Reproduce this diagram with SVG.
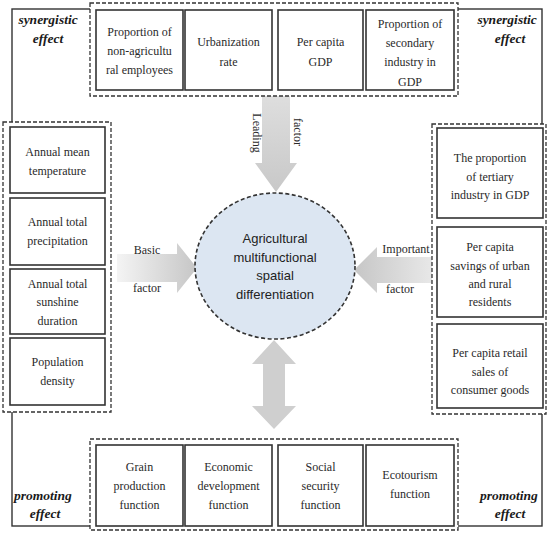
<svg xmlns="http://www.w3.org/2000/svg" width="550" height="536" viewBox="0 0 550 536">
<defs>
<style>
.frame{fill:none;stroke:#333;stroke-width:1.4}
.dash{fill:#fff;stroke:#333;stroke-width:1.3;stroke-dasharray:4 2}
.box{fill:#fff;stroke:#333;stroke-width:1.6}
.t{font-family:"Liberation Serif","Times New Roman",serif;font-size:12px;fill:#2a2a2a;text-anchor:middle}
.e{font-family:"Liberation Serif","Times New Roman",serif;font-size:13.5px;font-weight:bold;font-style:italic;fill:#1a1a1a;text-anchor:middle}
.c{font-family:"Liberation Sans",Arial,sans-serif;font-size:13px;fill:#222;text-anchor:middle}
</style>
<linearGradient id="gL" x1="0" y1="0" x2="1" y2="0">
<stop offset="0" stop-color="#f4f4f4"/><stop offset="1" stop-color="#c6c6c6"/>
</linearGradient>
<linearGradient id="gR" x1="1" y1="0" x2="0" y2="0">
<stop offset="0" stop-color="#e8e8e8"/><stop offset="1" stop-color="#c6c6c6"/>
</linearGradient>
<linearGradient id="gT" x1="0" y1="0" x2="0" y2="1">
<stop offset="0" stop-color="#dedede"/><stop offset="1" stop-color="#c8c8c8"/>
</linearGradient>
</defs>
<rect width="550" height="536" fill="#fff"/>
<rect class="frame" x="12" y="9" width="530" height="517"/>

<g id="effects">
<text class="e" x="48" y="24">synergistic</text>
<text class="e" x="48" y="43">effect</text>
<text class="e" x="507" y="24">synergistic</text>
<text class="e" x="510" y="43">effect</text>
<text class="e" x="43" y="500">promoting</text>
<text class="e" x="45" y="518">effect</text>
<text class="e" x="509" y="500">promoting</text>
<text class="e" x="510" y="518">effect</text>
</g>

<g id="connectors">
<polygon points="262,96 290,96 290,163 297,163 276,192 255,163 262,163" fill="url(#gT)"/>
<polygon points="117,254 177,254 177,243 197,268 177,293 177,282 117,282" fill="url(#gL)"/>
<polygon points="432,257 377,257 377,247 354,270 377,293 377,283 432,283" fill="url(#gR)"/>
<polygon points="274,340 296,364 285,364 285,406 296,406 274,429 252,406 263,406 263,364 252,364" fill="#cfcfcf"/>
<text class="t" transform="translate(253,133) rotate(90)">Leading</text>
<text class="t" transform="translate(294,132) rotate(90)">factor</text>
<text class="t" x="147" y="254">Basic</text>
<text class="t" x="147" y="292">factor</text>
<text class="t" x="406" y="253">Important</text>
<text class="t" x="400" y="293">factor</text>
</g>

<g id="top-group">
<rect class="dash" x="90" y="3" width="368" height="93"/>
<g id="n-nonagri"><rect class="box" x="96" y="10" width="87" height="80"/>
<text class="t" x="139.5" y="36">Proportion of</text><text class="t" x="139.5" y="55">non-agricultu</text><text class="t" x="139.5" y="74">ral employees</text></g>
<g id="n-urban"><rect class="box" x="185" y="10" width="87" height="80"/>
<text class="t" x="228.5" y="46">Urbanization</text><text class="t" x="228.5" y="66">rate</text></g>
<g id="n-gdp"><rect class="box" x="278" y="10" width="85" height="80"/>
<text class="t" x="320.5" y="46">Per capita</text><text class="t" x="320.5" y="66">GDP</text></g>
<g id="n-secondary"><rect class="box" x="366" y="10" width="88" height="80"/>
<text class="t" x="410" y="28">Proportion of</text><text class="t" x="410" y="47">secondary</text><text class="t" x="410" y="66">industry in</text><text class="t" x="410" y="86">GDP</text></g>
</g>

<g id="left-group">
<rect class="dash" x="3" y="122" width="108" height="290"/>
<g id="n-temp"><rect class="box" x="10" y="127" width="95" height="66"/>
<text class="t" x="57.5" y="156">Annual mean</text><text class="t" x="57.5" y="175">temperature</text></g>
<g id="n-precip"><rect class="box" x="10" y="198" width="95" height="67"/>
<text class="t" x="57.5" y="226">Annual total</text><text class="t" x="57.5" y="245">precipitation</text></g>
<g id="n-sun"><rect class="box" x="10" y="269" width="95" height="65"/>
<text class="t" x="57.5" y="288">Annual total</text><text class="t" x="57.5" y="306">sunshine</text><text class="t" x="57.5" y="325">duration</text></g>
<g id="n-pop"><rect class="box" x="10" y="338" width="95" height="67"/>
<text class="t" x="57.5" y="366">Population</text><text class="t" x="57.5" y="385">density</text></g>
</g>

<g id="right-group">
<rect class="dash" x="432" y="124" width="114" height="290"/>
<g id="n-tertiary"><rect class="box" x="437" y="128" width="106" height="90"/>
<text class="t" x="490" y="162">The proportion</text><text class="t" x="490" y="181">of tertiary</text><text class="t" x="490" y="199">industry in GDP</text></g>
<g id="n-savings"><rect class="box" x="437" y="227" width="106" height="90"/>
<text class="t" x="490" y="251">Per capita</text><text class="t" x="490" y="270">savings of urban</text><text class="t" x="490" y="288">and rural</text><text class="t" x="490" y="306">residents</text></g>
<g id="n-retail"><rect class="box" x="437" y="324" width="106" height="84"/>
<text class="t" x="490" y="357">Per capita retail</text><text class="t" x="490" y="376">sales of</text><text class="t" x="490" y="394">consumer goods</text></g>
</g>

<g id="bottom-group">
<rect class="dash" x="90" y="439" width="368" height="91"/>
<g id="n-grain"><rect class="box" x="96" y="445" width="87" height="81"/>
<text class="t" x="139.5" y="471">Grain</text><text class="t" x="139.5" y="490">production</text><text class="t" x="139.5" y="509">function</text></g>
<g id="n-econ"><rect class="box" x="185" y="445" width="87" height="81"/>
<text class="t" x="228.5" y="471">Economic</text><text class="t" x="228.5" y="490">development</text><text class="t" x="228.5" y="509">function</text></g>
<g id="n-social"><rect class="box" x="278" y="445" width="85" height="81"/>
<text class="t" x="320.5" y="471">Social</text><text class="t" x="320.5" y="490">security</text><text class="t" x="320.5" y="509">function</text></g>
<g id="n-eco"><rect class="box" x="366" y="445" width="88" height="81"/>
<text class="t" x="410" y="479">Ecotourism</text><text class="t" x="410" y="498">function</text></g>
</g>

<g id="center">
<ellipse cx="275" cy="266" rx="80" ry="73" fill="#dce6f2" stroke="#333" stroke-width="1.6" stroke-dasharray="4 2.5"/>
<text class="c" x="275" y="243">Agricultural</text>
<text class="c" x="275" y="262">multifunctional</text>
<text class="c" x="275" y="280">spatial</text>
<text class="c" x="275" y="299">differentiation</text>
</g>
</svg>
